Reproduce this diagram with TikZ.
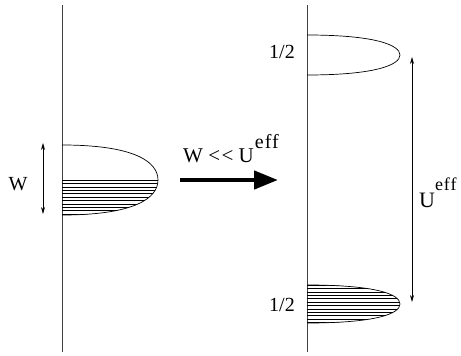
\documentclass[tikz,border=0pt]{standalone}
\usepackage{fontspec}
\setmainfont{Liberation Serif}
\usetikzlibrary{arrows.meta}
\newcommand{\wideeff}[1]{{\fontsize{#1}{#1}\selectfont\addfontfeature{LetterSpace=5}eff}}
\begin{document}
\begin{tikzpicture}[x=1pt,y=-1pt,
  axis/.style={line width=0.9pt,draw=black!75},
  band/.style={line width=0.7pt},
  hatch/.style={line width=0.5pt},
  dimarrow/.style={line width=0.7pt,{Stealth[length=7pt,width=4pt]}-{Stealth[length=7pt,width=4pt]}},
  bigarrow/.style={line width=4.5pt,-{Triangle[length=24pt,width=18pt]}},
  lbl/.style={inner sep=0pt,font=\fontsize{20}{24}\selectfont}]
\useasboundingbox (0,0) rectangle (461,356);
% axes
\coordinate (la) at (62,5); \coordinate (lb) at (62,352);
\coordinate (ra) at (307,5); \coordinate (rb) at (307,352);
\draw[axis] (la) -- (lb);
\draw[axis] (ra) -- (rb);
% left band
\begin{scope}
\clip (62,180) rectangle (170,220);
\clip (62,145) .. controls (135,145) and (158,162) .. (158,180) .. controls (158,198) and (135,215) .. (62,215) -- cycle;
\foreach \y in {180,183.4,...,216} \draw[hatch] (62,\y) -- (170,\y);
\end{scope}
\draw[band] (62,145) .. controls (135,145) and (158,162) .. (158,180) .. controls (158,198) and (135,215) .. (62,215);
\draw[band] (62,180) -- (158,180);
% W arrow
\coordinate (wa) at (43,143); \coordinate (wb) at (43,214);
\draw[dimarrow] (wa) -- (wb);
\node[lbl] (w) at (18,184) {W};
% big arrow
\coordinate (ba) at (180,180); \coordinate (bb) at (278,180);
\draw[bigarrow] (ba) -- (bb);
\node[lbl,anchor=base west,font=\fontsize{21}{26}\selectfont] (cond) at (183,162) {W <\kern1.5pt<{} U\kern1pt\raisebox{14pt}{\wideeff{20}}};
% upper right band
\draw[band] (307,35) .. controls (375,35) and (400,45) .. (400,55) .. controls (400,65) and (375,75) .. (307,75);
\node[lbl] (h1) at (282,52) {1/2};
% lower right band
\begin{scope}
\clip (307,285) .. controls (375,285) and (400,294) .. (400,304) .. controls (400,314) and (375,323) .. (307,323) -- cycle;
\foreach \y in {285,288.4,...,324} \draw[hatch] (307,\y) -- (405,\y);
\end{scope}
\draw[band] (307,285) .. controls (375,285) and (400,294) .. (400,304) .. controls (400,314) and (375,323) .. (307,323);
\node[lbl] (h2) at (282,305) {1/2};
% U arrow
\coordinate (ua) at (412,57); \coordinate (ub) at (412,302);
\draw[dimarrow] (ua) -- (ub);
\node[lbl,anchor=base west,font=\fontsize{22}{26}\selectfont] (u) at (419,207) {U\raisebox{17pt}{\wideeff{18}}};
\end{tikzpicture}
\end{document}
